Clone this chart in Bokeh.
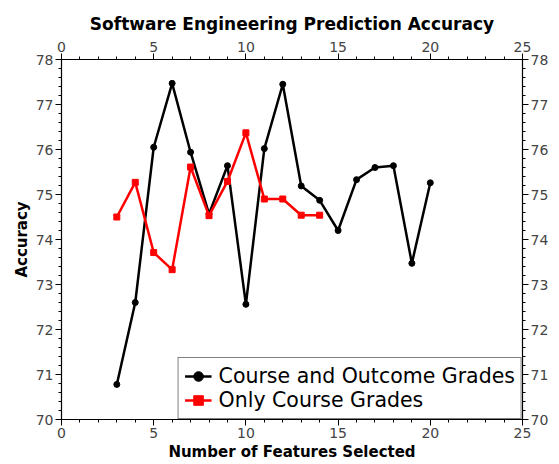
from bokeh.plotting import figure
from bokeh.models import LinearAxis, Range1d, SingleIntervalTicker, Legend, LegendItem
from bokeh.embed import file_html
from bokeh.resources import INLINE

features_a = [3, 4, 5, 6, 7, 8, 9, 10, 11, 12, 13, 14, 15, 16, 17, 18, 19, 20]
acc_a = [70.78, 72.6, 76.05, 77.47, 75.94, 74.57, 75.64, 72.56, 76.02, 77.45,
         75.19, 74.87, 74.2, 75.33, 75.6, 75.64, 73.47, 75.26]
features_b = [3, 4, 5, 6, 7, 8, 9, 10, 11, 12, 13, 14]
acc_b = [74.5, 75.27, 73.71, 73.33, 75.61, 74.53, 75.29, 76.37, 74.9, 74.9, 74.54, 74.54]

title_text = "Software Engineering Prediction Accuracy"
x_label = "Number of Features Selected"
y_label = "Accuracy"
label_a = "Course and Outcome Grades"
label_b = "Only Course Grades"

FONT = "DejaVu Sans"
TICK_COLOR = "#444444"

p = figure(frame_width=461, frame_height=360, output_backend="svg", toolbar_location=None,
           x_range=Range1d(0, 25), y_range=Range1d(70, 78),
           x_axis_location=None, y_axis_location=None,
           min_border_left=61, min_border_right=37, min_border_top=59, min_border_bottom=45)
p.title.text = title_text
p.title.text_font = FONT
p.title.text_font_size = "17px"
p.title.text_font_style = "bold"
p.title.align = "center"
p.title.text_color = "black"
p.title.standoff = 10
p.grid.visible = False
p.outline_line_color = "black"
p.outline_line_width = 1
p.background_fill_color = "white"
p.border_fill_color = "white"


def make_axis(side):
    ax = LinearAxis()
    if side in ("below", "above"):
        ax.ticker = SingleIntervalTicker(interval=5, num_minor_ticks=5)
    else:
        ax.ticker = SingleIntervalTicker(interval=1, num_minor_ticks=5)
    ax.major_tick_in = 0
    ax.major_tick_out = 6
    ax.minor_tick_in = 0
    ax.minor_tick_out = 3
    ax.axis_line_color = "black"
    ax.axis_line_width = 1.2
    ax.major_tick_line_color = "black"
    ax.minor_tick_line_color = "black"
    ax.major_label_text_font = FONT
    ax.major_label_text_font_size = "14px"
    ax.major_label_text_color = TICK_COLOR
    ax.major_label_standoff = 2
    ax.axis_label_text_font = FONT
    ax.axis_label_text_font_size = "15px"
    ax.axis_label_text_font_style = "bold"
    ax.axis_label_text_color = "black"
    ax.axis_label_standoff = 2
    return ax


bottom = make_axis("below")
bottom.axis_label = x_label
top = make_axis("above")
left = make_axis("left")
left.axis_label = y_label
right = make_axis("right")
p.add_layout(bottom, "below")
p.add_layout(top, "above")
p.add_layout(left, "left")
p.add_layout(right, "right")

la = p.line(features_a, acc_a, line_color="black", line_width=2.5)
ma = p.scatter(features_a, acc_a, marker="circle", size=6, fill_color="black", line_color="black")
lb = p.line(features_b, acc_b, line_color="red", line_width=2.5)
mb = p.scatter(features_b, acc_b, marker="square", size=6, fill_color="red", line_color="red")

legend = Legend(items=[LegendItem(label=label_a, renderers=[la, ma]),
                       LegendItem(label=label_b, renderers=[lb, mb])],
                location="bottom_right", margin=0, padding=6, spacing=0,
                label_text_font=FONT, label_text_font_size="20.5px", label_text_color="black",
                label_standoff=7,
                glyph_width=27, glyph_height=24, label_height=24,
                border_line_color="black", border_line_width=1,
                background_fill_alpha=1.0)
p.add_layout(legend, "center")

open("out.html", "w").write(file_html(p, INLINE))
